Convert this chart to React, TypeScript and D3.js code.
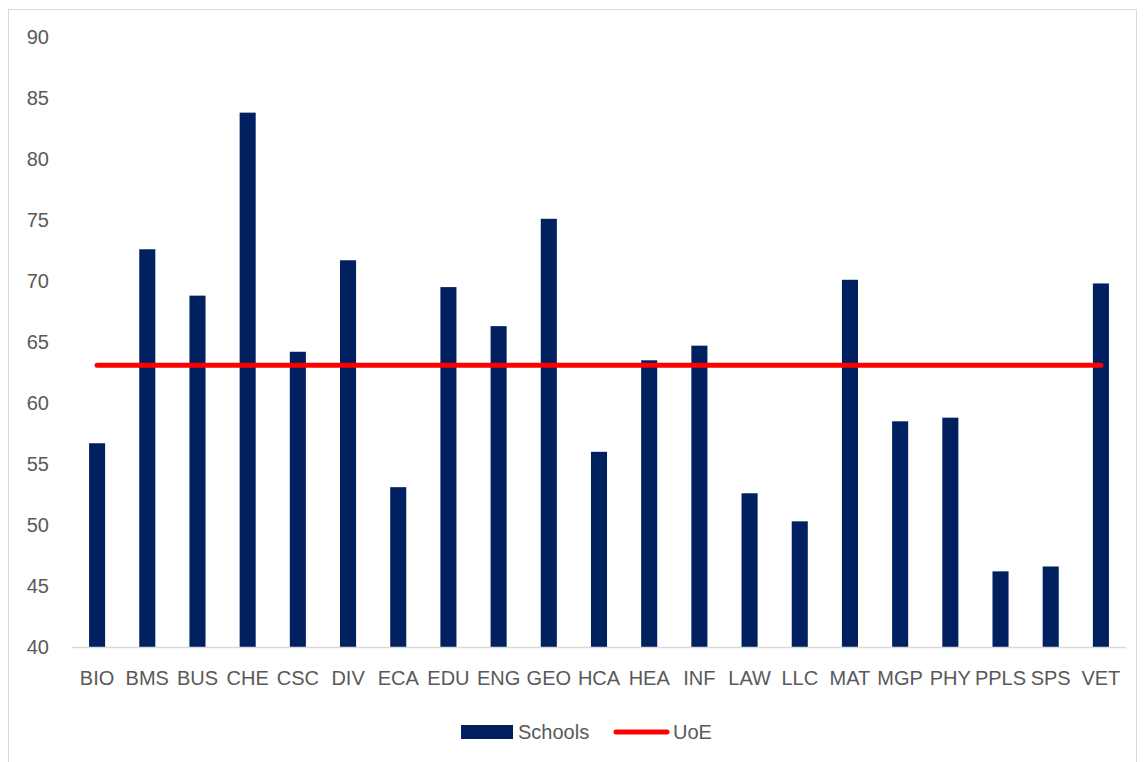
import React from "react";
import * as d3 from "d3";

const schools = ["BIO", "BMS", "BUS", "CHE", "CSC", "DIV", "ECA", "EDU", "ENG", "GEO", "HCA", "HEA", "INF", "LAW", "LLC", "MAT", "MGP", "PHY", "PPLS", "SPS", "VET"];
const schoolValues = [56.7, 72.6, 68.8, 83.8, 64.2, 71.7, 53.1, 69.5, 66.3, 75.1, 56.0, 63.5, 64.7, 52.6, 50.3, 70.1, 58.5, 58.8, 46.2, 46.6, 69.8];
const uoeValue = 63.1;
const yTicks = [40, 45, 50, 55, 60, 65, 70, 75, 80, 85, 90];

const W = 1145;
const H = 762;
const plot = { left: 72, right: 1126, top: 37, bottom: 647 };
const FONT = "'Liberation Sans', Arial, sans-serif";
const TEXT = "#595959";
const BAR = "#002060";
const LINE = "#FF0000";

export default function App() {
  const x = d3.scaleBand<string>().domain(schools).range([plot.left, plot.right]).paddingInner(0.68).paddingOuter(0.34);
  const y = d3.scaleLinear().domain([40, 90]).range([plot.bottom, plot.top]);
  const centers = schools.map((s) => (x(s) as number) + x.bandwidth() / 2);
  const uoeLine = d3.line<number>().x((d) => d).y(() => y(uoeValue));

  return (
    <svg width={W} height={H} style={{ position: "absolute", left: 0, top: 0, background: "#fff" }} fontFamily={FONT}>
      <rect x={8.5} y={9.5} width={1128} height={770} fill="#fff" stroke="#d9d9d9" strokeWidth={1} />
      {yTicks.map((t) => (
        <text key={t} x={49} y={y(t) + 7} textAnchor="end" fontSize={20} fill={TEXT}>{t}</text>
      ))}
      {schools.map((s, i) => (
        <rect key={s} x={x(s)} y={y(schoolValues[i])} width={x.bandwidth()} height={y(40) - y(schoolValues[i])} fill={BAR} />
      ))}
      <line x1={plot.left} x2={plot.right} y1={plot.bottom + 0.5} y2={plot.bottom + 0.5} stroke="#d9d9d9" strokeWidth={1.5} />
      {schools.map((s, i) => (
        <text key={s} x={centers[i]} y={685} textAnchor="middle" fontSize={20} fill={TEXT}>{s}</text>
      ))}
      <path d={uoeLine([centers[0], centers[centers.length - 1]]) || ""} stroke={LINE} strokeWidth={5} strokeLinecap="round" fill="none" />
      <g>
        <rect x={461} y={725} width={52} height={14} fill={BAR} />
        <text x={518} y={739} fontSize={20} fill={TEXT}>Schools</text>
        <line x1={616} x2={667} y1={732} y2={732} stroke={LINE} strokeWidth={5} strokeLinecap="round" />
        <text x={673} y={739} fontSize={20} fill={TEXT}>UoE</text>
      </g>
    </svg>
  );
}
